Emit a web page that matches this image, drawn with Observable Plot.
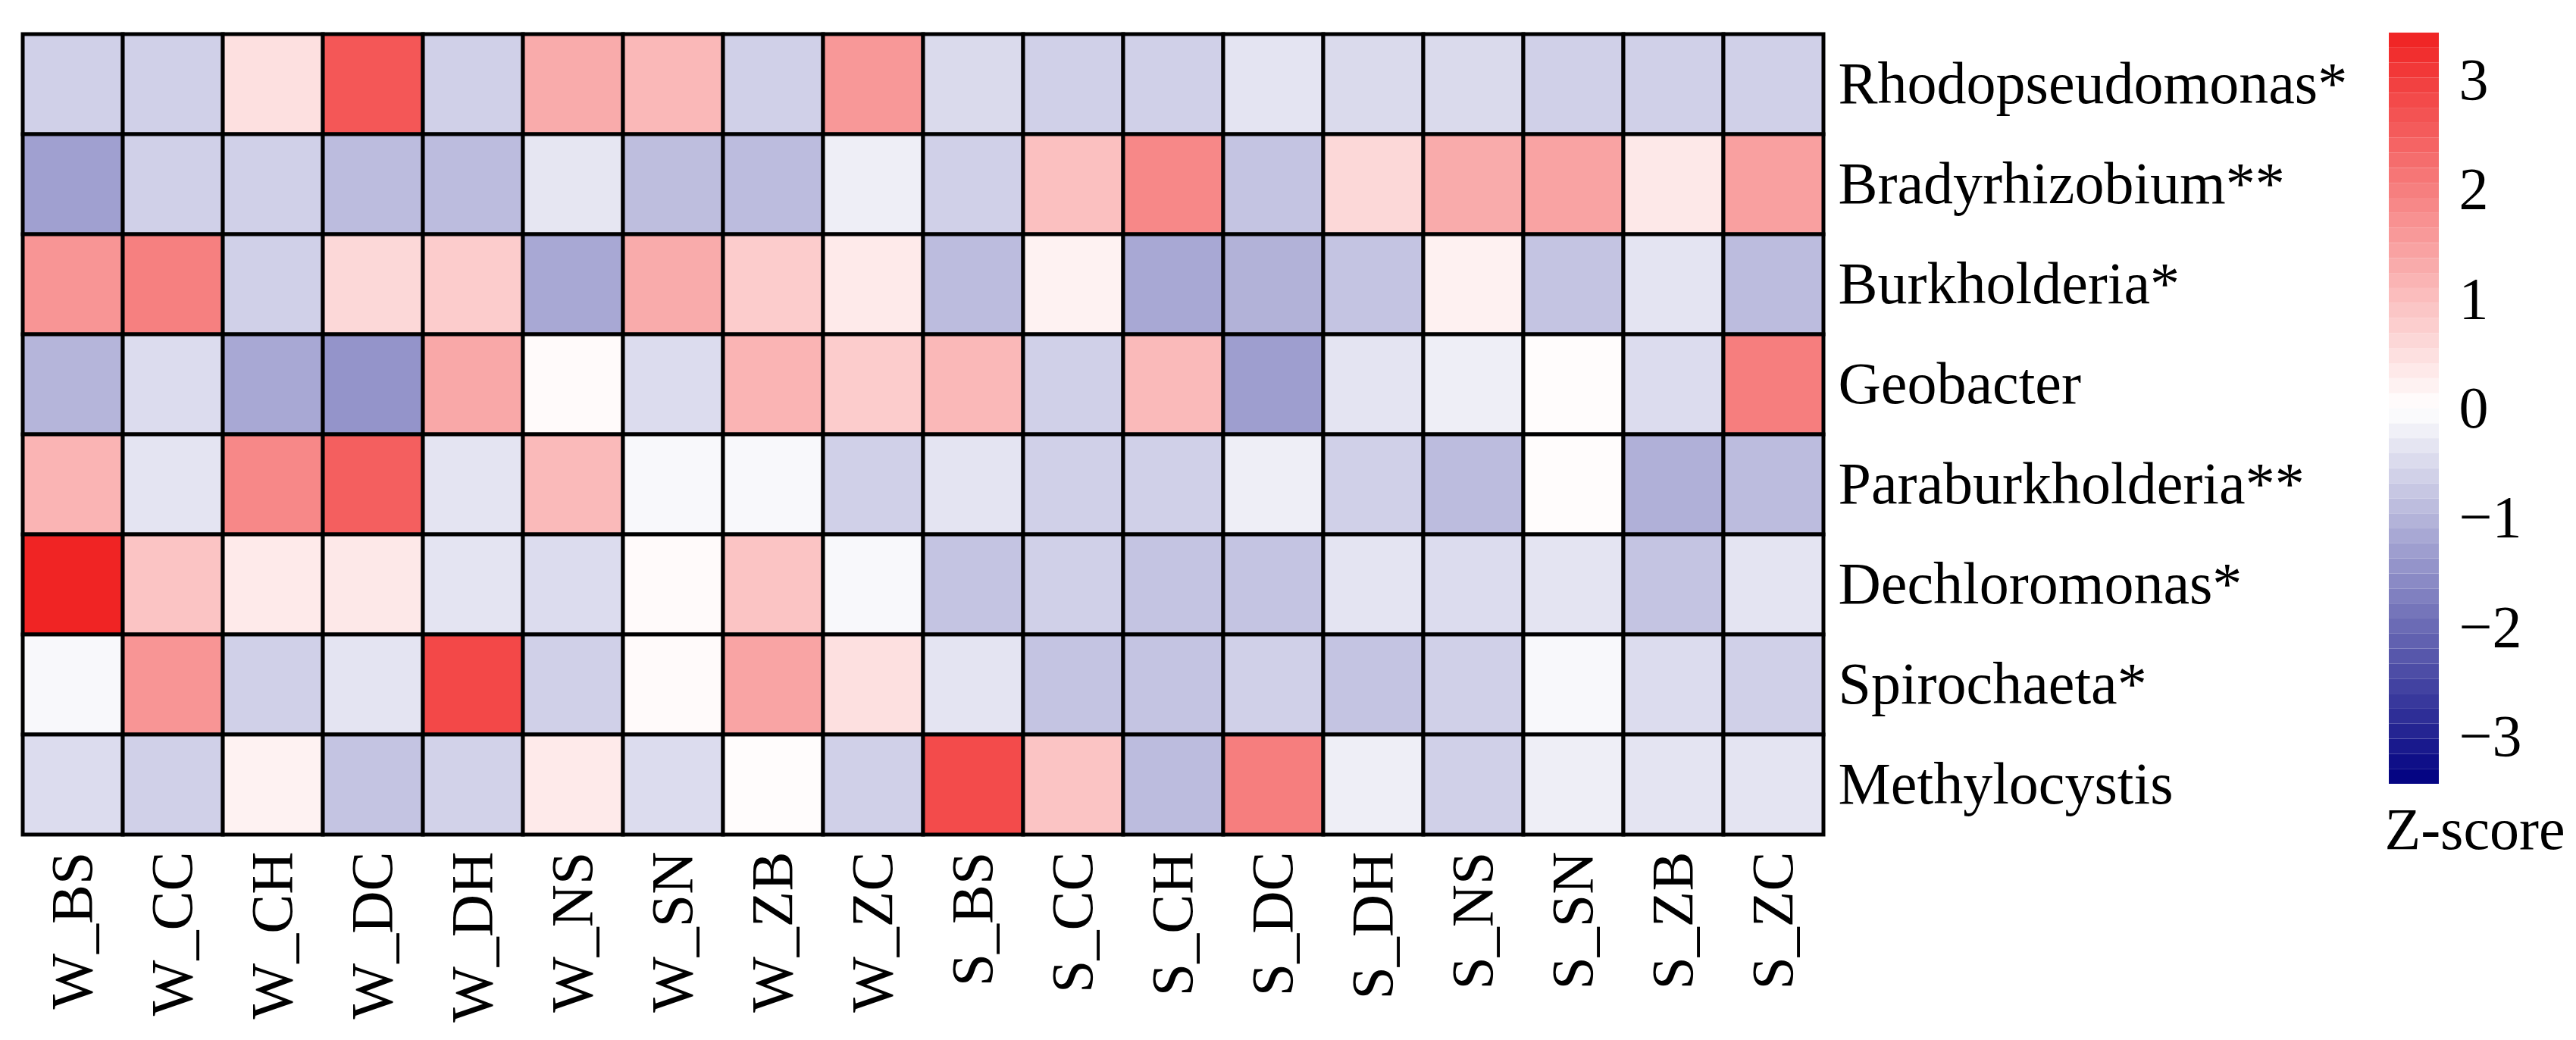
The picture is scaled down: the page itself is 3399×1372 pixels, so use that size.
<!DOCTYPE html>
<html>
<head>
<meta charset="utf-8">
<script src="https://cdn.jsdelivr.net/npm/d3@7"></script>
<script src="https://cdn.jsdelivr.net/npm/@observablehq/plot@0.6"></script>
<style>
  html, body { margin: 0; padding: 0; background: #fff; }
  #wrap { position: relative; width: 3399px; height: 1372px; overflow: hidden; background: #fff; }
  #wrap > div { position: absolute; left: 0; top: 0; }
</style>
</head>
<body>
<div id="wrap"><div id="heat"></div><div id="bar"></div></div>
<script>
// ---- data ----
const samples = ["W_BS","W_CC","W_CH","W_DC","W_DH","W_NS","W_SN","W_ZB","W_ZC",
                 "S_BS","S_CC","S_CH","S_DC","S_DH","S_NS","S_SN","S_ZB","S_ZC"];
const genera = ["Rhodopseudomonas*","Bradyrhizobium**","Burkholderia*","Geobacter",
                "Paraburkholderia**","Dechloromonas*","Spirochaeta*","Methylocystis"];

const rhodopseudomonas = [-0.63,-0.63,0.48,2.6,-0.63,1.3,1.1,-0.63,1.6, -0.5,-0.63,-0.63,-0.36,-0.5,-0.5,-0.63,-0.63,-0.63];
const bradyrhizobium   = [-1.28,-0.63,-0.63,-0.9,-0.9,-0.34,-0.88,-0.9,-0.23, -0.63,0.98,1.85,-0.79,0.6,1.3,1.43,0.36,1.47];
const burkholderia     = [1.64,1.97,-0.63,0.6,0.79,-1.17,1.3,0.79,0.33, -0.9,0.2,-1.17,-1.04,-0.79,0.22,-0.79,-0.36,-0.9];
const geobacter        = [-1.0,-0.47,-1.17,-1.44,1.35,0.08,-0.47,1.16,0.79, 1.1,-0.63,1.07,-1.3,-0.36,-0.23,0.05,-0.47,2.0];
const paraburkholderia = [1.16,-0.36,1.85,2.48,-0.36,1.07,-0.1,-0.1,-0.63, -0.36,-0.63,-0.63,-0.23,-0.63,-0.9,0.05,-1.06,-0.9];
const dechloromonas    = [3.4,0.92,0.33,0.36,-0.36,-0.47,0.08,0.92,-0.1, -0.79,-0.63,-0.79,-0.79,-0.36,-0.47,-0.36,-0.79,-0.36];
const spirochaeta      = [-0.1,1.65,-0.63,-0.36,2.84,-0.63,0.08,1.42,0.48, -0.36,-0.79,-0.79,-0.63,-0.79,-0.63,-0.1,-0.47,-0.63];
const methylocystis    = [-0.47,-0.63,0.2,-0.79,-0.6,0.33,-0.47,0.05,-0.63, 2.8,0.92,-0.9,2.0,-0.23,-0.63,-0.23,-0.36,-0.36];

const colorTicks = [-3,-2,-1,0,1,2,3];
const zLimit = 3.43;

const series = [rhodopseudomonas, bradyrhizobium, burkholderia, geobacter,
                paraburkholderia, dechloromonas, spirochaeta, methylocystis];
const cells = [];
genera.forEach((g, i) => samples.forEach((s, j) => cells.push({genus: g, sample: s, z: series[i][j]})));

const colorOpts = {type: "linear", domain: [-zLimit, 0, zLimit], range: ["#000080", "#ffffff", "#F02222"], interpolate: "rgb"};
const FONT = "'Liberation Serif', 'Times New Roman', serif";

// ---- heatmap ----
const heat = Plot.plot({
  width: 3399, height: 1372,
  marginLeft: 29, marginTop: 43, marginRight: 3399 - 2406, marginBottom: 1372 - 1102,
  style: {fontFamily: FONT, fontSize: "78px", background: "transparent", color: "#000"},
  x: {type: "band", domain: samples, padding: 0, label: null},
  y: {type: "band", domain: genera, padding: 0, label: null},
  color: colorOpts,
  marks: [
    Plot.cell(cells, {x: "sample", y: "genus", fill: "z", stroke: "#000", strokeWidth: 5, inset: 0}),
    Plot.axisX({anchor: "bottom", tickSize: 0, tickPadding: 21, tickRotate: -90, fontSize: 78, label: null}),
    Plot.axisY({anchor: "right", tickSize: 0, tickPadding: 19, fontSize: 78, label: null, textAnchor: "start"})
  ]
});
document.getElementById("heat").appendChild(heat);

// ---- colour bar ----
const nBands = 50;
const bandEdges = d3.range(nBands).map(k => ({
  y1: -zLimit + (2 * zLimit) * k / nBands,
  y2: -zLimit + (2 * zLimit) * (k + 1) / nBands,
  mid: -zLimit + (2 * zLimit) * (k + 0.5) / nBands
}));
const bar = Plot.plot({
  width: 3399, height: 1372,
  marginLeft: 3152, marginRight: 3399 - 3218, marginTop: 43, marginBottom: 1372 - 1034,
  style: {fontFamily: FONT, fontSize: "78px", background: "transparent", color: "#000"},
  x: {domain: [0, 1], axis: null},
  y: {domain: [-zLimit, zLimit], label: null},
  color: colorOpts,
  marks: [
    Plot.rect(bandEdges, {x1: 0, x2: 1, y1: "y1", y2: "y2", fill: "mid"}),
    Plot.axisY(colorTicks, {anchor: "right", tickSize: 0, tickPadding: 26, fontSize: 78, label: null,
      tickFormat: d => d < 0 ? "\u2212" + Math.abs(d) : String(d)}),
    Plot.text(["Z-score"], {frameAnchor: "bottom-left", text: d => d, dx: -6, dy: 30, lineAnchor: "top",
      textAnchor: "start", fontSize: 78, fill: "#000"})
  ]
});
document.getElementById("bar").appendChild(bar);
</script>
</body>
</html>
